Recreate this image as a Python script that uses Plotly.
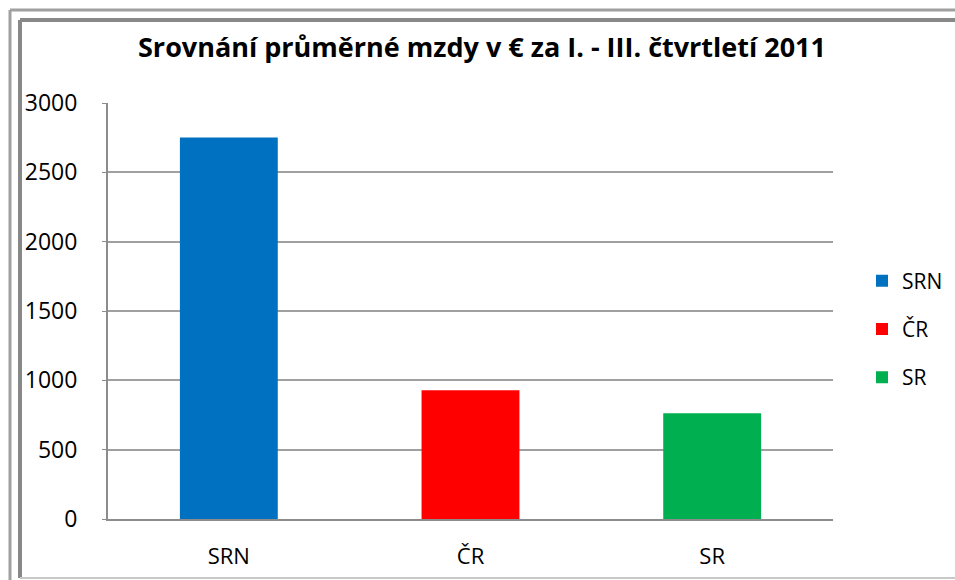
import plotly.graph_objects as go

categories = ["SRN", "ČR", "SR"]
values = [2752, 928, 763]
colors = ["#0070C0", "#FF0000", "#00B050"]
y_ticks = [0, 500, 1000, 1500, 2000, 2500, 3000]
title_text = "Srovnání průměrné mzdy v € za I. - III. čtvrtletí 2011"

W, H = 955, 580
L, R, T, B = 108, 833, 103, 519

def px(x):
    return (x - L) / (R - L)

def py(y):
    return (B - y) / (B - T)

fig = go.Figure()
for i, (c, v, col) in enumerate(zip(categories, values, colors)):
    fig.add_trace(go.Bar(x=[c], y=[v], name=c, marker_color=col,
                         marker_line_width=0, width=0.405, legendgroup=c))

font_family = "Open Sans, DejaVu Sans, sans-serif"

shapes = []
shapes.append(dict(type="line", xref="paper", yref="paper", x0=px(10), x1=px(960), y0=py(10), y1=py(10),
                   line=dict(color="#A0A0A0", width=3)))
shapes.append(dict(type="line", xref="paper", yref="paper", x0=px(10), x1=px(10), y0=py(10), y1=py(585),
                   line=dict(color="#A0A0A0", width=3)))
shapes.append(dict(type="line", xref="paper", yref="paper", x0=px(20), x1=px(960), y0=py(20), y1=py(20),
                   line=dict(color="#888888", width=4)))
shapes.append(dict(type="line", xref="paper", yref="paper", x0=px(20), x1=px(20), y0=py(20), y1=py(578),
                   line=dict(color="#888888", width=4)))
shapes.append(dict(type="line", xref="paper", yref="paper", x0=px(20), x1=px(960), y0=py(578), y1=py(578),
                   line=dict(color="#C8C8C8", width=2)))

fig.update_layout(
    width=W, height=H,
    margin=dict(l=L, r=W - R, t=T, b=H - B, pad=0, autoexpand=False),
    paper_bgcolor="white", plot_bgcolor="white",
    barmode="overlay",
    title=dict(text="<b>" + title_text + "</b>", x=482 / W, xanchor="center", y=1 - 48 / H, yanchor="middle",
               font=dict(family=font_family, size=27, color="black")),
    font=dict(family=font_family, size=22, color="black"),
    xaxis=dict(showgrid=False, showline=True, linecolor="#8C8C8C", linewidth=2, automargin=False,
               ticks="", tickfont=dict(size=22), ticklabelstandoff=17, fixedrange=True),
    yaxis=dict(range=[0, 3000], tickvals=y_ticks, showgrid=True, gridcolor="#A0A0A0", gridwidth=2,
               showline=True, linecolor="#8C8C8C", linewidth=2, ticks="outside", ticklen=4,
               tickcolor="#8C8C8C", tickfont=dict(size=23), ticklabelstandoff=20, zeroline=False,
               fixedrange=True, automargin=False),
    legend=dict(x=px(862), xanchor="left", y=py(329), yanchor="middle", traceorder="grouped",
                tracegroupgap=18, font=dict(size=21), itemwidth=30, bgcolor="rgba(0,0,0,0)"),
    shapes=shapes,
    showlegend=True,
)

page_js = "document.body.style.margin='0';document.body.style.overflow='hidden';"

fig.write_html("out.html", post_script=page_js, config={"displayModeBar": False})
